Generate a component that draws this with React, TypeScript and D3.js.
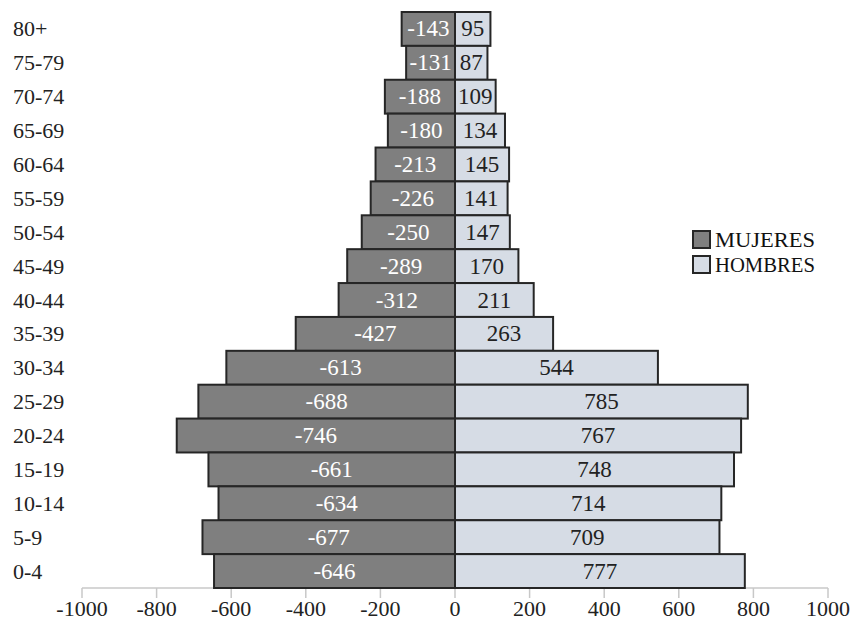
import React from "react";
import * as d3 from "d3";

const categories = ["80+","75-79","70-74","65-69","60-64","55-59","50-54","45-49","40-44","35-39","30-34","25-29","20-24","15-19","10-14","5-9","0-4"];
const mujeres = [-143,-131,-188,-180,-213,-226,-250,-289,-312,-427,-613,-688,-746,-661,-634,-677,-646];
const hombres = [95,87,109,134,145,141,147,170,211,263,544,785,767,748,714,709,777];
const xTicks = [-1000,-800,-600,-400,-200,0,200,400,600,800,1000];
const legendLabels = ["MUJERES","HOMBRES"];

const W = 855, H = 628;
const FONT = "'Liberation Serif', 'Times New Roman', serif";
const DARK = "#7f7f7f";
const LIGHT = "#d6dce5";
const STROKE = "#262626";

export default function App() {
  const x = d3.scaleLinear().domain([-1000, 1000]).range([82, 828]);
  const y = d3.scaleBand().domain(categories).range([12, 588]).paddingInner(0).paddingOuter(0);
  const bh = y.bandwidth();
  const axisY = 588;
  return (
    <svg width={W} height={H} style={{ position: "absolute", left: 0, top: 0, background: "#fff" }} fontFamily={FONT}>
      {/* axis */}
      <line x1={x(-1000)} x2={x(1000)} y1={axisY} y2={axisY} stroke="#c8c8c8" strokeWidth={1.5} />
      {xTicks.map((t) => (
        <g key={t}>
          <line x1={x(t)} x2={x(t)} y1={axisY} y2={axisY + 10} stroke="#c8c8c8" strokeWidth={1.5} />
          <text x={x(t)} y={axisY + 20} textAnchor="middle" dominantBaseline="central" fontSize={22} fill="#222">{t}</text>
        </g>
      ))}
      {/* category labels */}
      {categories.map((c) => (
        <text key={c} x={13} y={(y(c) as number) + bh / 2} dominantBaseline="central" fontSize={22} fill="#222">{c}</text>
      ))}
      {/* bars */}
      {categories.map((c, i) => {
        const yy = y(c) as number;
        const xm = x(mujeres[i]);
        const xh = x(hombres[i]);
        const x0 = x(0);
        return (
          <g key={c}>
            <rect x={xm} y={yy} width={x0 - xm} height={bh} fill={DARK} stroke={STROKE} strokeWidth={2} />
            <rect x={x0} y={yy} width={xh - x0} height={bh} fill={LIGHT} stroke={STROKE} strokeWidth={2} />
          </g>
        );
      })}
      {categories.map((c, i) => {
        const yy = (y(c) as number) + bh / 2;
        const x0 = x(0);
        return (
          <g key={c + "l"}>
            <text x={(x(mujeres[i]) + x0) / 2} y={yy} textAnchor="middle" dominantBaseline="central" fontSize={23} fill="#fff">{mujeres[i]}</text>
            <text x={(x(hombres[i]) + x0) / 2} y={yy} textAnchor="middle" dominantBaseline="central" fontSize={23} fill="#222">{hombres[i]}</text>
          </g>
        );
      })}
      {/* legend */}
      {legendLabels.map((l, i) => (
        <g key={l} transform={`translate(693, ${231 + i * 25})`}>
          <rect x={0} y={0} width={17} height={17} fill={i === 0 ? DARK : LIGHT} stroke={STROKE} strokeWidth={2} />
          <text x={22} y={9} dominantBaseline="central" fontSize={20} fill="#111" textLength={100} lengthAdjust="spacingAndGlyphs">{l}</text>
        </g>
      ))}
    </svg>
  );
}
